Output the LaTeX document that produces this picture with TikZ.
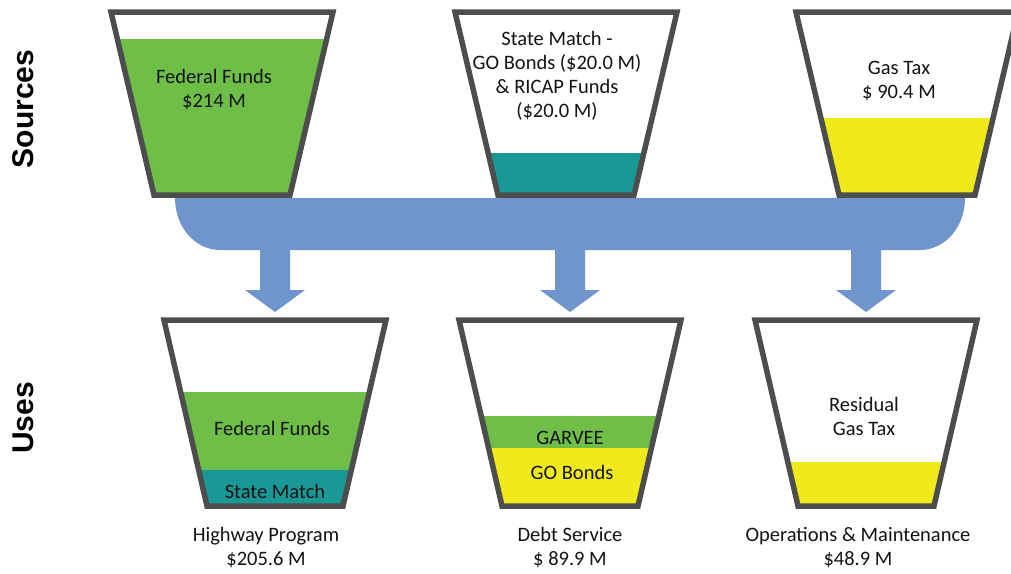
\documentclass[tikz,border=0pt]{standalone}
\usepackage{fontspec}
\setmainfont{Carlito}
\newfontfamily\sidefont{Liberation Sans}
\usetikzlibrary{calc}
\definecolor{rimgray}{RGB}{77,77,77}
\definecolor{fedgreen}{RGB}{110,190,72}
\definecolor{matchteal}{RGB}{26,152,150}
\definecolor{taxyellow}{RGB}{240,234,28}
\definecolor{pipeblue}{RGB}{112,149,204}
\definecolor{ink}{RGB}{20,20,20}
% bucket outline: centre x, top y, bottom y
\newcommand{\trap}[3]{(#1-111,#2) -- (#1+111,#2) -- (#1+68,#3) -- (#1-68,#3) -- cycle}

\begin{document}
\begin{tikzpicture}[x=1pt,y=-1pt,
    rim/.style={draw=rimgray,line width=5.5pt,line join=miter},
    lbl/.style={font=\fontsize{20.5}{24}\selectfont,align=center,text=ink,inner sep=0pt},
    side/.style={font={\fontsize{30}{34}\sidefont\bfseries},rotate=90,inner sep=0pt}]
  \useasboundingbox[fill=white] (0,0) rectangle (1011,573);

  % pipe
  \coordinate (pipeL) at (175,198);
  \coordinate (pipeR) at (965,198);
  \fill[pipeblue] (pipeL) -- (pipeR) .. controls (965,227) and (945,250) .. (920,250)
    -- (220,250) .. controls (195,250) and (175,227) .. (pipeL) -- cycle;

  % arrows down to the uses
  \coordinate (hwy) at (275,320);
  \coordinate (debt) at (570,320);
  \coordinate (ops) at (866,320);
  \foreach \b in {hwy,debt,ops}
    \fill[pipeblue] ($(\b)+(-15,-72)$) -- ($(\b)+(15,-72)$) -- ($(\b)+(15,-30)$) -- ($(\b)+(30,-30)$)
      -- ($(\b)+(0,-8)$) -- ($(\b)+(-30,-30)$) -- ($(\b)+(-15,-30)$) -- cycle;

  % sources
  \begin{scope}
    \clip \trap{222}{12}{195};
    \fill[fedgreen] (100,39) rectangle (340,200);
  \end{scope}
  \draw[rim] \trap{222}{12}{195};
  \begin{scope}
    \clip \trap{566}{12}{195};
    \fill[matchteal] (440,153) rectangle (690,200);
  \end{scope}
  \draw[rim] \trap{566}{12}{195};
  \begin{scope}
    \clip \trap{907}{12}{195};
    \fill[taxyellow] (780,118) rectangle (1030,200);
  \end{scope}
  \draw[rim] \trap{907}{12}{195};

  % uses
  \begin{scope}
    \clip \trap{275}{320}{506};
    \fill[fedgreen] (150,392) rectangle (400,470);
    \fill[matchteal] (150,470) rectangle (400,510);
  \end{scope}
  \draw[rim] \trap{275}{320}{506};
  \begin{scope}
    \clip \trap{570}{320}{506};
    \fill[fedgreen] (450,416) rectangle (700,448);
    \fill[taxyellow] (450,448) rectangle (700,510);
  \end{scope}
  \draw[rim] \trap{570}{320}{506};
  \begin{scope}
    \clip \trap{866}{320}{506};
    \fill[taxyellow] (740,462) rectangle (990,510);
  \end{scope}
  \draw[rim] \trap{866}{320}{506};

  % texts
  \node[lbl] (fedsrc) at (214,90) {Federal Funds\\\$214 M};
  \node[lbl] (matchsrc) at (557,76) {State Match -\\GO Bonds (\$20.0 M)\\\& RICAP Funds\\(\$20.0 M)};
  \node[lbl] (taxsrc) at (899,81) {Gas Tax\\\$ 90.4 M};
  \node[lbl] (fedhwy) at (272,428) {Federal Funds};
  \node[lbl] (matchhwy) at (275,491) {State Match};
  \node[lbl] (garvee) at (570,438) {GARVEE};
  \node[lbl] (gobonds) at (572,472) {GO Bonds};
  \node[lbl] (residual) at (864,416) {Residual\\Gas Tax};
  \node[lbl] (hwylbl) at (266,548) {Highway Program\\\$205.6 M};
  \node[lbl] (debtlbl) at (570,548) {Debt Service\\\$ 89.9 M};
  \node[lbl] (opslbl) at (858,548) {Operations \& Maintenance\\\$48.9 M};
  \node[side] (sources) at (23,109) {Sources};
  \node[side] (uses) at (23,418) {Uses};
\end{tikzpicture}
\end{document}
